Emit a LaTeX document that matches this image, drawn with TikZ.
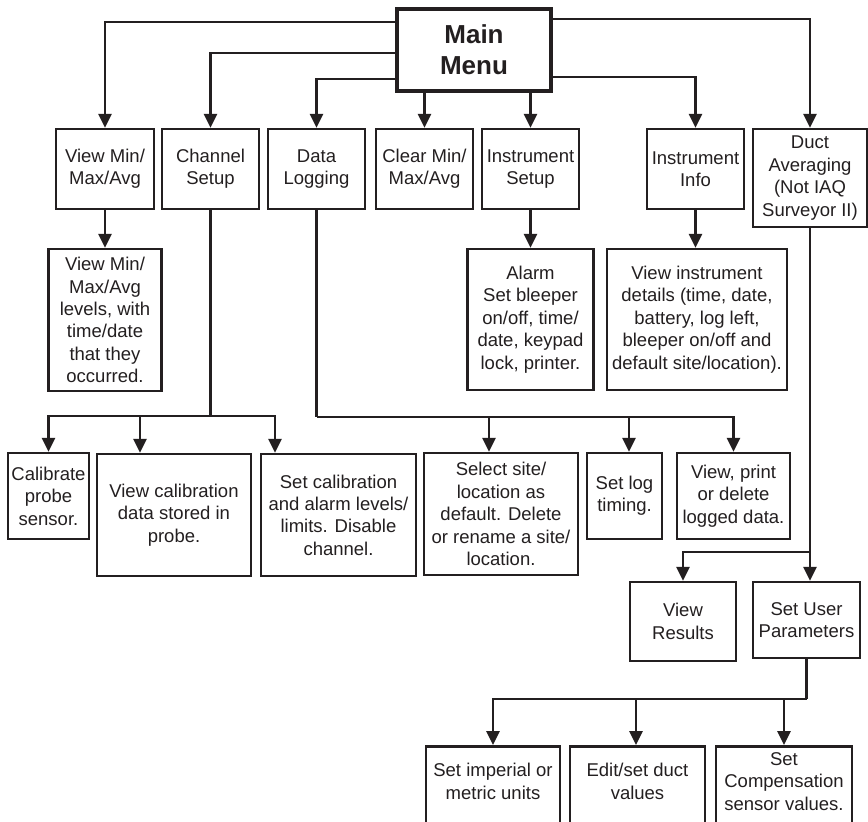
\documentclass[tikz,border=0pt]{standalone}
\usepackage{fontspec}
\setmainfont{Liberation Sans}
\usetikzlibrary{arrows.meta}
\definecolor{ink}{RGB}{35,31,32}

\begin{document}
\begin{tikzpicture}[x=1pt,y=-1pt,
    box/.style={draw=ink, line width=2.5pt, inner sep=0pt, align=center, text=ink, font=\fontsize{18.5}{22.4}\selectfont},
    leaf/.style={box, anchor=north, minimum height=100, text depth=30pt},
    arr/.style={draw=ink, line width=2.6pt, -{Triangle[length=14pt,width=13pt]}},
    wire/.style={draw=ink, line width=2.6pt}]
    \clip (0,0) rectangle (868,822);
    \fill[white] (0,0) rectangle (868,822);

    \node[box, line width=4.5pt, minimum width=154, minimum height=82, font=\bfseries\fontsize{26}{31}\selectfont] (main) at (474,50) {Main\\Menu};

    \node[box, minimum width=98, minimum height=80] (viewmin) at (105,169) {View Min/\\Max/Avg};
    \node[box, minimum width=97, minimum height=80] (channel) at (210.5,169) {Channel\\Setup};
    \node[box, minimum width=97, minimum height=80] (datalog) at (316.5,169) {Data\\Logging};
    \node[box, minimum width=97, minimum height=80] (clearmin) at (424.5,169) {Clear Min/\\Max/Avg};
    \node[box, minimum width=97, minimum height=80] (instsetup) at (530.5,169) {Instrument\\Setup};
    \node[box, minimum width=97, minimum height=80] (instinfo) at (695.5,169) {Instrument\\Info};
    \node[box, minimum width=114, minimum height=98] (duct) at (810,178) {Duct\\Averaging\\(Not IAQ\\Surveyor II)};

    \node[box, minimum width=113, minimum height=142] (viewlevels) at (105,320) {View Min/\\Max/Avg\\levels, with\\time/date\\that they\\occurred.};
    \node[box, minimum width=126, minimum height=141] (alarm) at (530.5,319.5) {Alarm\\Set bleeper\\on/off, time/\\date, keypad\\lock, printer.};
    \node[box, minimum width=180, minimum height=141] (details) at (697,319.5) {View instrument\\details (time, date,\\battery, log left,\\bleeper on/off and\\default site/location).};

    \node[box, minimum width=81, minimum height=86] (calibrate) at (48.5,496) {Calibrate\\probe\\sensor.};
    \node[box, minimum width=154, minimum height=122] (viewcal) at (174,515) {View calibration\\data stored in\\probe.};
    \node[box, minimum width=155, minimum height=122] (setcal) at (338.5,515) {Set calibration\\and alarm levels/\\limits. Disable\\channel.};
    \node[box, minimum width=154, minimum height=122] (site) at (501,514) {Select site/\\location as\\default. Delete\\or rename a site/\\location.};
    \node[box, minimum width=75, minimum height=86] (logtime) at (624.5,496) {Set log\\timing.};
    \node[box, minimum width=113, minimum height=86] (viewlog) at (733.5,496) {View, print\\or delete\\logged data.};

    \node[box, minimum width=106, minimum height=79] (results) at (683,621.5) {View\\Results};
    \node[box, minimum width=107, minimum height=76] (userpar) at (806.5,620) {Set User\\Parameters};

    \node[leaf, minimum width=134] (units) at (493,745) {Set imperial or\\metric units};
    \node[leaf, minimum width=135] (ductval) at (637.5,745) {Edit/set duct\\values};
    \node[leaf, minimum width=136] (compens) at (784,745) {Set\\Compensation\\sensor values.};

    \draw[arr] ([yshift=28]main.west) -| (viewmin.north);
    \draw[arr] ([yshift=-3]main.west) -| (channel.north);
    \draw[arr] ([yshift=-29]main.west) -| (datalog.north);
    \draw[arr] (clearmin.north |- main.south) -- (clearmin.north);
    \draw[arr] (instsetup.north |- main.south) -- (instsetup.north);
    \draw[arr] ([yshift=-27]main.east) -| (instinfo.north);
    \draw[arr] ([yshift=31]main.east) -| (duct.north);

    \draw[arr] (viewmin.south) -- (viewlevels.north);
    \draw[arr] (instsetup.south) -- (alarm.north);
    \draw[arr] (instinfo.south) -- (instinfo.south |- details.north);

    \coordinate (chanbus) at (channel.south |- 0,416);
    \draw[wire] (channel.south) -- (chanbus);
    \draw[arr] (chanbus) -| (calibrate.north);
    \draw[arr] (chanbus) -| ([xshift=-34]viewcal.north);
    \draw[arr] (chanbus) -| ([xshift=-63.5]setcal.north);

    \coordinate (logbus) at (datalog.south |- 0,417);
    \draw[wire] (datalog.south) -- (logbus);
    \draw[arr] (logbus) -| ([xshift=-12]site.north);
    \draw[arr] (logbus) -| ([xshift=4.5]logtime.north);
    \draw[arr] (logbus) -| (viewlog.north);

    \coordinate (ductbus) at (duct.south |- 0,552);
    \draw[arr] (duct.south) -- (duct.south |- userpar.north);
    \draw[arr] (ductbus) -| (results.north);

    \coordinate (parbus) at (userpar.south |- 0,699);
    \draw[wire] (userpar.south) -- (parbus);
    \draw[arr] (parbus) -| (units.north);
    \draw[arr] (parbus) -| ([xshift=-1.5]ductval.north);
    \draw[arr] (parbus) -| (compens.north);
\end{tikzpicture}
\end{document}
